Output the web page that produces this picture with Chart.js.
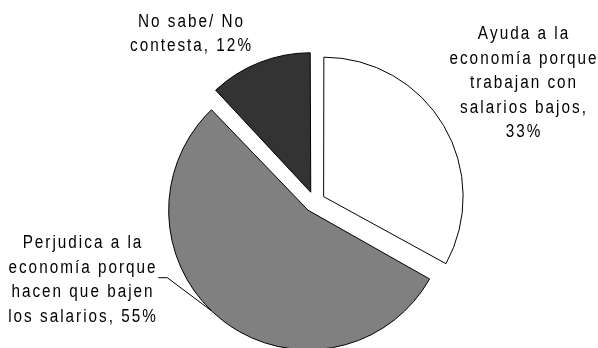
<!DOCTYPE html>
<html>
<head>
<meta charset="utf-8">
<script src="https://cdn.jsdelivr.net/npm/chart.js@4.4.1/dist/chart.umd.min.js"></script>
<style>
    html, body { margin: 0; padding: 0; background: #fff; }
    #wrap { width: 598px; height: 348px; }
</style>
</head>
<body>
<div id="wrap"><canvas id="pieChart" width="598" height="348"></canvas></div>
<script>
// Survey answers, in drawing order (clockwise from 12 o'clock)
const categories = [
    'Ayuda a la economía porque trabajan con salarios bajos',
    'Perjudica a la economía porque hacen que bajen los salarios',
    'No sabe/ No contesta'
];
const values = [33, 55, 12];
const sliceColors = ['#ffffff', '#808080', '#333333'];

// How each category name is broken over lines in its label
const labelLines = [
    ['Ayuda a la', 'economía porque', 'trabajan con', 'salarios bajos,'],
    ['Perjudica a la', 'economía porque', 'hacen que bajen', 'los salarios,'],
    ['No sabe/ No', 'contesta,']
];

// Label placement: centre x, first baseline, and whether the % sits on its own line
const labelLayout = [
    { x: 523, y: 39.3, pctOwnLine: true },
    { x: 82, y: 248.3, pctOwnLine: false },
    { x: 190.5, y: 26.7, pctOwnLine: false }
];
const lineHeight = 24.5;

const pieRadius = 139.5;
const explode = 42;            // Chart.js moves each slice by offset / 4
const leaderStart = [158.3, 277.7];
const leaderElbow = [167.3, 277.7];
const leaderAngle = 134 * Math.PI / 180;

// Chart.js grows the radius of exploded slices; keep them all the same size
const explodeFix = {
    id: 'explodeFix',
    beforeDatasetsDraw(chart) {
        chart.getDatasetMeta(0).data.forEach(arc => {
            const o = (arc.options.offset || 0) / 4;
            const fix = 1 - Math.sin(Math.min(Math.PI, arc.circumference));
            arc.outerRadius = pieRadius - o * fix;
        });
    }
};

// Letter-spaced, slightly condensed text centred on cx
function drawSpaced(ctx, text, cx, y) {
    const sx = 0.85, gap = 2;
    const chars = [...text];
    const widths = chars.map(ch => ctx.measureText(ch).width * sx);
    const total = widths.reduce((a, b) => a + b, 0) + gap * (chars.length - 1);
    let x = cx - total / 2;
    chars.forEach((ch, i) => {
        ctx.save();
        ctx.translate(x, y);
        ctx.scale(sx, 1);
        ctx.fillText(ch, 0, 0);
        ctx.restore();
        x += widths[i] + gap;
    });
}

const sliceLabels = {
    id: 'sliceLabels',
    afterDatasetsDraw(chart) {
        const ctx = chart.ctx;
        const meta = chart.getDatasetMeta(0);
        ctx.save();
        ctx.fillStyle = '#000';
        ctx.font = '18px "Liberation Sans", Arial, sans-serif';
        ctx.textAlign = 'left';
        ctx.textBaseline = 'alphabetic';

        labelLines.forEach((lines, i) => {
            const lay = labelLayout[i];
            const pct = values[i] + '%';
            const text = lines.slice();
            if (lay.pctOwnLine) {
                text.push(pct);
            } else {
                text[text.length - 1] += ' ' + pct;
            }
            text.forEach((line, j) => drawSpaced(ctx, line, lay.x, lay.y + j * lineHeight));
        });

        // Leader line from the "Perjudica" label to its slice edge
        const arc = meta.data[1];
        const mid = (arc.startAngle + arc.endAngle) / 2;
        const o = explode / 4;
        const cx = arc.x + Math.cos(mid) * o;
        const cy = arc.y + Math.sin(mid) * o;
        ctx.strokeStyle = '#000';
        ctx.lineWidth = 1;
        ctx.beginPath();
        ctx.moveTo(leaderStart[0], leaderStart[1]);
        ctx.lineTo(leaderElbow[0], leaderElbow[1]);
        ctx.lineTo(cx + pieRadius * Math.cos(leaderAngle), cy + pieRadius * Math.sin(leaderAngle));
        ctx.stroke();
        ctx.restore();
    }
};

new Chart(document.getElementById('pieChart'), {
    type: 'pie',
    data: {
        labels: categories,
        datasets: [{
            data: values,
            backgroundColor: sliceColors,
            borderColor: '#000',
            borderWidth: 1,
            offset: explode,
            clip: false
        }]
    },
    options: {
        responsive: false,
        animation: false,
        radius: pieRadius,
        layout: {
            padding: { left: 60, right: 28.8, top: 60, bottom: 4 }
        },
        plugins: {
            legend: { display: false },
            tooltip: { enabled: false }
        }
    },
    plugins: [explodeFix, sliceLabels]
});
</script>
</body>
</html>
